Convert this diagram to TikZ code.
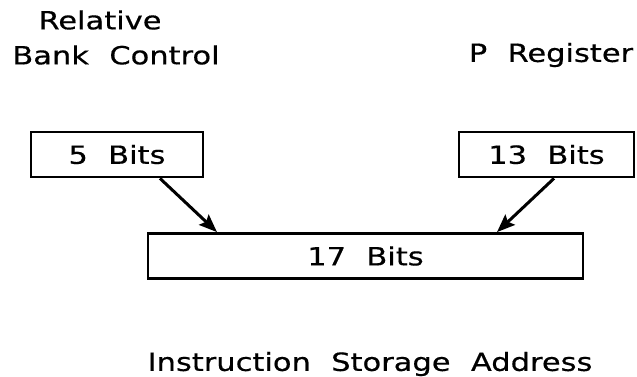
\documentclass[tikz,border=0pt]{standalone}
\usepackage{fontspec}
\setmainfont{DejaVu Sans}[FakeStretch=1.22,WordSpace=2.1,FakeBold=0.5]
\usetikzlibrary{positioning}
\usetikzlibrary{arrows.meta}

\begin{document}
\begin{tikzpicture}[x=1pt,y=-1pt,
    bitbox/.style={draw,line width=2.8pt,inner sep=0pt,minimum height=45pt,
      font=\fontsize{25}{29}\selectfont},
    lbl/.style={inner sep=0pt,font=\fontsize{25}{29}\selectfont},
    feed/.style={line width=3pt,-{Stealth[length=18pt,width=14pt,inset=3pt]}}]
  \useasboundingbox (0,0) rectangle (637,377);

  % register names
  \node [lbl]   (rel)   at (100,20)   {Relative};
  \node [lbl]   (bank)  at (116,55)   {Bank Control};
  \node [lbl]   (preg)  at (551,55)   {P Register};

  % the three fields
  \node [bitbox,minimum width=172pt] (five)      at (117,154.5)   {5 Bits};
  \node [bitbox,minimum width=175pt] (thirteen)  at (546.5,154.5) {13 Bits};
  \node [bitbox,minimum width=435pt] (seventeen) at (365.5,256)   {17 Bits};

  \node [lbl]   (isa)   at (370,364)  {Instruction Storage Address};

  \draw [feed] ([xshift=43pt]five.south) -- ([xshift=-148.5pt]seventeen.north);
  \draw [feed] ([xshift=7.5pt]thirteen.south) -- ([xshift=131.5pt]seventeen.north);
\end{tikzpicture}
\end{document}
